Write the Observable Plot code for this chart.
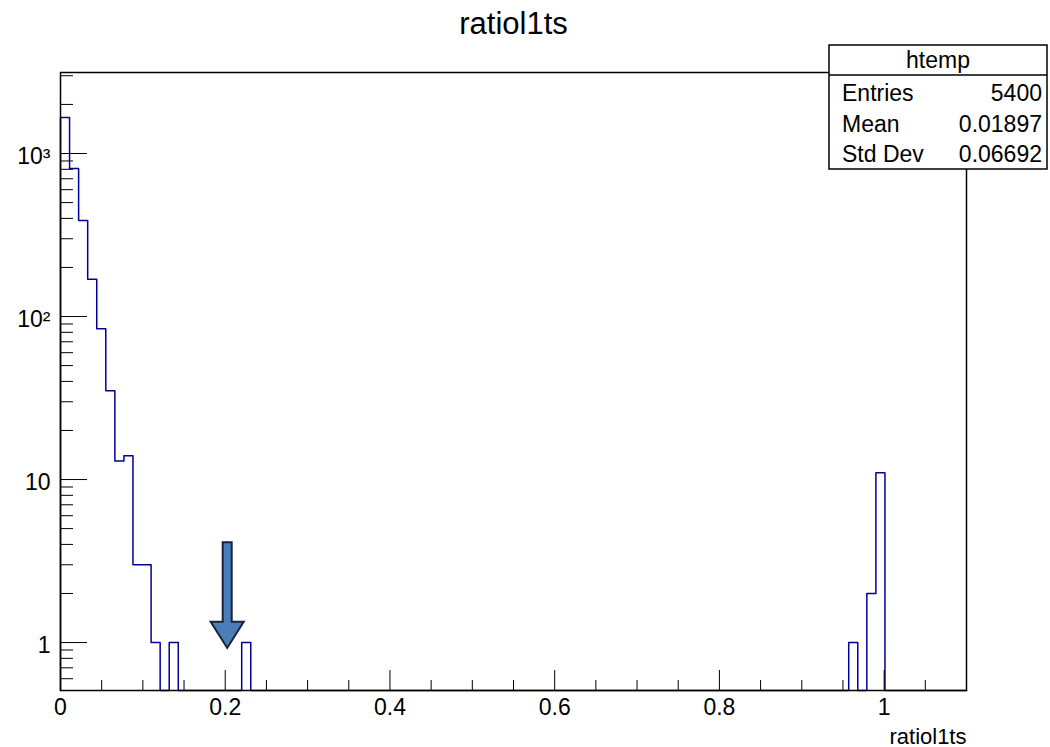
<!DOCTYPE html>
<html><head><meta charset="utf-8">
<script src="https://cdn.jsdelivr.net/npm/d3@7"></script>
<script src="https://cdn.jsdelivr.net/npm/@observablehq/plot@0.6"></script>
<style>
html,body{margin:0;padding:0;background:#fff;}
#chart{width:1050px;height:747px;overflow:hidden;}
</style></head><body><div id="chart"></div>
<script>
// ---- data ----
const title = "ratiol1ts";
const xLabel = "ratiol1ts";
const binWidth = 0.011;
const nBins = 100;
const filledBins = [0, 1, 2, 3, 4, 5, 6, 7, 8, 9, 10, 12, 20, 87, 89, 90];
const binCounts  = [1663, 809, 388, 169, 84, 35, 13, 14, 3, 3, 1, 1, 1, 1, 2, 11];
const xMajor = [0, 0.2, 0.4, 0.6, 0.8, 1];
const xMajorLabels = ["0", "0.2", "0.4", "0.6", "0.8", "1"];
const xMinor = [0.05, 0.1, 0.15, 0.25, 0.3, 0.35, 0.45, 0.5, 0.55, 0.65, 0.7, 0.75, 0.85, 0.9, 0.95, 1.05];
const yMajor = [1, 10, 100, 1000];
const yMajorLabels = ["1", "10", "10\u00B2", "10\u00B3"];
const yMinor = [0.6, 0.7, 0.8, 0.9, 2, 3, 4, 5, 6, 7, 8, 9, 20, 30, 40, 50, 60, 70, 80, 90,
                200, 300, 400, 500, 600, 700, 800, 900, 2000, 3000];
const statsName = "htemp";
const statsRows = ["Entries", "Mean", "Std Dev"];
const statsValues = ["5400", "0.01897", "0.06692"];
const arrowAnno = {x: 0.203, top: 4.1, headStart: 1.33, tip: 0.92};

// ---- build the outline table ----
const yMin = 0.508, yMax = 3140;
const countByBin = new Map(filledBins.map((b, i) => [b, binCounts[i]]));
const outline = [{x: 0, y: yMin}];
for (let i = 0; i < nBins; i++) {
  const c = countByBin.get(i) || 0;
  const y = c > 0 ? c : yMin;
  outline.push({x: i * binWidth, y}, {x: (i + 1) * binWidth, y});
}
outline.push({x: nBins * binWidth, y: yMin});

const xLab = new Map(xMajor.map((d, i) => [d, xMajorLabels[i]]));
const yLab = new Map(yMajor.map((d, i) => [d, yMajorLabels[i]]));
const font = "'Liberation Sans', Arial, Helvetica, sans-serif";

const chart = Plot.plot({
  width: 1050, height: 747,
  marginLeft: 60, marginRight: 84, marginTop: 72, marginBottom: 57,
  style: {fontFamily: font, fontSize: "23px", color: "black", background: "white", overflow: "visible"},
  x: {domain: [0, 1.1], label: null},
  y: {type: "log", domain: [yMin, yMax], label: null},
  marks: [
    Plot.line(outline, {x: "x", y: "y", stroke: "#000099", strokeWidth: 1.5}),
    Plot.axisX(xMinor, {tickSize: -10, tickFormat: () => "", label: null}),
    Plot.axisX(xMajor, {tickSize: -20, tickFormat: () => "", label: null}),
    Plot.axisX(xMajor, {tickSize: 0, tickPadding: 8, tickFormat: d => xLab.get(d), label: null}),
    Plot.axisY(yMinor, {tickSize: -13, tickFormat: () => "", label: null}),
    Plot.axisY(yMajor, {tickSize: -27, tickFormat: () => "", label: null}),
    Plot.axisY(yMajor, {tickSize: 0, tickPadding: 10, tickFormat: d => yLab.get(d), dy: 3, label: null}),
    Plot.frame({stroke: "black", strokeWidth: 1.5}),
    Plot.text([title], {frameAnchor: "top", dy: -39, lineAnchor: "bottom", fontSize: 31}),
    Plot.text([xLabel], {frameAnchor: "bottom-right", dy: 53, lineAnchor: "bottom", textAnchor: "end", fontSize: 22})
  ]
});
document.getElementById("chart").appendChild(chart);

// ---- arrow annotation positioned through the plot scales ----
const sx = chart.scale("x"), sy = chart.scale("y");
const svg = d3.select(chart);
{
  const cx = sx.apply(arrowAnno.x);
  const yT = sy.apply(arrowAnno.top), yH = sy.apply(arrowAnno.headStart), yP = sy.apply(arrowAnno.tip);
  const hw = 4.5, hh = 16.5;
  svg.append("path")
    .attr("d", `M${cx - hw},${yT}L${cx + hw},${yT}L${cx + hw},${yH}L${cx + hh},${yH}L${cx},${yP}L${cx - hh},${yH}L${cx - hw},${yH}Z`)
    .attr("fill", "#4a7dba").attr("stroke", "#1b2436").attr("stroke-width", 2).attr("stroke-linejoin", "miter");
}

// ---- statistics box ----
{
  const bx = 829, by = 45, bw = 218, bh = 124, hdr = 30;
  const g = svg.append("g").attr("font-family", font).attr("font-size", 23).attr("fill", "black");
  g.append("rect").attr("x", bx).attr("y", by).attr("width", bw).attr("height", bh)
    .attr("fill", "white").attr("stroke", "black").attr("stroke-width", 1.5);
  g.append("line").attr("x1", bx).attr("x2", bx + bw).attr("y1", by + hdr).attr("y2", by + hdr)
    .attr("stroke", "black").attr("stroke-width", 1.5);
  g.append("text").attr("x", bx + bw / 2).attr("y", 68).attr("text-anchor", "middle").text(statsName);
  const baselines = [101, 132, 162];
  statsRows.forEach((r, i) => {
    g.append("text").attr("x", 842).attr("y", baselines[i]).attr("text-anchor", "start").text(r);
    g.append("text").attr("x", 1042).attr("y", baselines[i]).attr("text-anchor", "end").text(statsValues[i]);
  });
}
</script></body></html>
